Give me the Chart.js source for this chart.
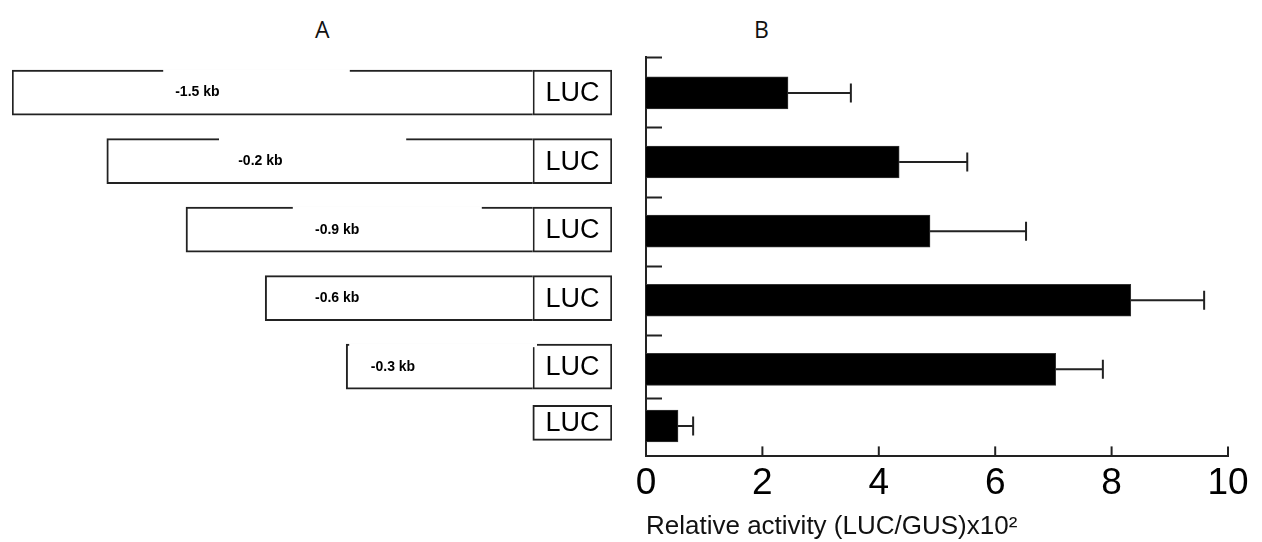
<!DOCTYPE html>
<html>
<head>
<meta charset="utf-8">
<script src="https://cdn.jsdelivr.net/npm/chart.js@4.4.1/dist/chart.umd.min.js"></script>
<style>
  html, body { margin: 0; padding: 0; background: #fff; }
  #wrap { position: relative; width: 1262px; height: 542px; }
  canvas { position: absolute; top: 0; }
  #constructs { left: 0; }
  #activity { left: 630px; }
  .panel { position: absolute; top: 13px; font: 23px 'Open Sans', sans-serif; color: #111; }
</style>
</head>
<body>
<div id="wrap">
  <div class="panel" style="left:315px">A</div>
  <div class="panel" style="left:754px">B</div>
  <canvas id="constructs" width="630" height="542"></canvas>
  <canvas id="activity" width="632" height="542"></canvas>
</div>
<script>
  // rows, top to bottom (last row is the empty LUC vector)
  const constructLabels = ['-1.5 kb', '-0.2 kb', '-0.9 kb', '-0.6 kb', '-0.3 kb', ''];
  const rowSlots = [0, 1, 2, 3, 4, 4.82];
  const promoterStart = [0, 15.8, 29, 42.2, 55.7, null];
  const lucStart = 86.8;
  const lucEnd = 100;

  // panel B: relative activity (LUC/GUS) x10^2
  const activity = [2.44, 4.35, 4.88, 8.33, 7.04, 0.55];
  const activityErr = [1.08, 1.17, 1.65, 1.26, 0.81, 0.26];
  const xTicks = [0, 2, 4, 6, 8, 10];

  const FONT = '"Liberation Sans", Arial, sans-serif';
  const INK = '#222';
  const rowScale = { type: 'linear', min: -0.52, max: 5.26, reverse: true, offset: false };

  const hasPromoter = (i) => promoterStart[i] !== null;

  const constructDecor = {
    id: 'constructDecor',
    afterDatasetsDraw(chart, args, opts) {
      const { ctx } = chart;
      const x = chart.scales.x;
      ctx.save();

      // white breaks in the top outline of some promoter boxes
      chart.getDatasetMeta(0).data.forEach((el, i) => {
        const gap = opts.gaps[i];
        if (!gap) return;
        const top = el.y - el.height / 2;
        const x0 = x.getPixelForValue(gap[0]);
        const x1 = x.getPixelForValue(gap[1]);
        ctx.fillStyle = '#fff';
        ctx.fillRect(x0, top - 1, x1 - x0, 4);
      });

      ctx.fillStyle = '#000';
      ctx.textBaseline = 'middle';
      ctx.textAlign = 'left';
      ctx.font = `bold 14px ${FONT}`;
      chart.getDatasetMeta(0).data.forEach((el, i) => {
        ctx.fillText(constructLabels[i], x.getPixelForValue(opts.labelAt[i]), el.y);
      });

      ctx.textAlign = 'center';
      ctx.font = `27px ${FONT}`;
      [1, 2].forEach((d) => {
        chart.getDatasetMeta(d).data.forEach((el) => {
          ctx.fillText('LUC', (el.x + el.base) / 2, el.y + 1);
        });
      });
      ctx.restore();
    },
  };

  const boxStyle = {
    backgroundColor: '#fff',
    borderColor: INK,
    borderSkipped: false,
    grouped: false,
  };

  new Chart(document.getElementById('constructs'), {
    type: 'bar',
    data: {
      datasets: [
        {
          ...boxStyle,
          data: rowSlots
            .map((y, i) => ({ x: [promoterStart[i], lucStart], y }))
            .filter((d, i) => hasPromoter(i)),
          borderWidth: { top: 2, bottom: 2, left: 2, right: 0 },
          barThickness: 45,
        },
        {
          ...boxStyle,
          data: rowSlots
            .filter((y, i) => hasPromoter(i))
            .map((y) => ({ x: [lucStart, lucEnd], y })),
          borderWidth: 2,
          barThickness: 45,
        },
        {
          ...boxStyle,
          data: rowSlots
            .filter((y, i) => !hasPromoter(i))
            .map((y) => ({ x: [lucStart, lucEnd], y })),
          borderWidth: 2,
          barThickness: 35,
        },
      ],
    },
    options: {
      responsive: false,
      animation: false,
      indexAxis: 'y',
      layout: { padding: { left: 12, right: 18, top: 57, bottom: 89 } },
      plugins: {
        legend: { display: false },
        tooltip: { enabled: false },
        constructDecor: {
          labelAt: [27.2, 37.7, 50.5, 50.5, 59.8],
          gaps: [[25.2, 56.3], [34.5, 65.7], [46.8, 78.3], null, [56.2, 87.5]],
        },
      },
      scales: {
        x: { type: 'linear', min: 0, max: 100, display: false },
        y: { ...rowScale, display: false },
      },
    },
    plugins: [constructDecor],
  });

  const activityDecor = {
    id: 'activityDecor',
    afterDatasetsDraw(chart) {
      const { ctx, chartArea } = chart;
      const { x, y } = chart.scales;
      ctx.save();
      ctx.strokeStyle = INK;
      ctx.lineWidth = 2;

      // error bars
      chart.getDatasetMeta(0).data.forEach((el, i) => {
        const end = x.getPixelForValue(activity[i] + activityErr[i]);
        ctx.beginPath();
        ctx.moveTo(el.x, el.y);
        ctx.lineTo(end, el.y);
        ctx.moveTo(end, el.y - 9.5);
        ctx.lineTo(end, el.y + 9.5);
        ctx.stroke();
      });

      // x ticks point inward
      x.ticks.forEach((t) => {
        if (t.value === 0) return;
        const px = x.getPixelForValue(t.value);
        ctx.beginPath();
        ctx.moveTo(px, chartArea.bottom);
        ctx.lineTo(px, chartArea.bottom - 10);
        ctx.stroke();
      });

      // short dashes between rows on the y axis
      const marks = [rowScale.min];
      for (let i = 1; i < rowSlots.length; i += 1) {
        marks.push((rowSlots[i - 1] + rowSlots[i]) / 2);
      }
      marks.forEach((v) => {
        const py = Math.round(y.getPixelForValue(v)) + 0.5;
        ctx.beginPath();
        ctx.moveTo(chartArea.left, py);
        ctx.lineTo(chartArea.left + 16, py);
        ctx.stroke();
      });
      ctx.restore();
    },
  };

  new Chart(document.getElementById('activity'), {
    type: 'bar',
    data: {
      datasets: [
        {
          data: activity.map((v, i) => ({ x: v, y: rowSlots[i] })),
          backgroundColor: '#000',
          borderColor: '#333',
          borderWidth: 1,
          barThickness: 32,
        },
      ],
    },
    options: {
      responsive: false,
      animation: false,
      indexAxis: 'y',
      layout: { padding: { left: 16, right: 34, top: 57, bottom: 0 } },
      plugins: {
        legend: { display: false },
        tooltip: { enabled: false },
      },
      scales: {
        x: {
          type: 'linear',
          min: 0,
          max: 10,
          afterBuildTicks(scale) {
            scale.ticks = xTicks.map((value) => ({ value }));
          },
          grid: { display: false, drawTicks: false },
          border: { display: true, color: INK, width: 2 },
          ticks: {
            color: '#000',
            padding: 5,
            maxRotation: 0,
            font: { family: FONT, size: 37 },
          },
          title: {
            display: true,
            align: 'start',
            text: 'Relative activity (LUC/GUS)x10²',
            color: '#111',
            font: { family: FONT, size: 26 },
            padding: { top: 0, bottom: 0 },
          },
        },
        y: {
          ...rowScale,
          grid: { display: false, drawTicks: false },
          border: { display: true, color: INK, width: 2 },
          ticks: { display: false },
        },
      },
    },
    plugins: [activityDecor],
  });
</script>
</body>
</html>
